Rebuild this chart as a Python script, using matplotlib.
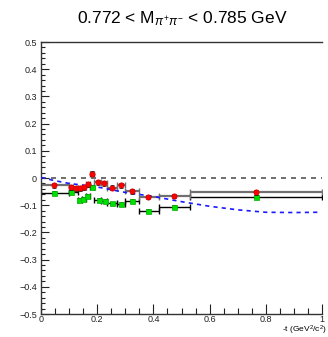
import numpy as np
import matplotlib
matplotlib.use("Agg")
import matplotlib.pyplot as plt

plt.rcParams['font.family'] = ['Liberation Sans', 'DejaVu Sans']
plt.rcParams['mathtext.fontset'] = 'custom'
plt.rcParams['mathtext.rm'] = 'Liberation Sans'
plt.rcParams['mathtext.it'] = 'Liberation Sans:italic'

# red series (circles): -t bin centre, bin edges, value
t_red = [0.047, 0.106, 0.124, 0.139, 0.154, 0.168, 0.183, 0.204, 0.225, 0.252, 0.286, 0.325, 0.381, 0.473, 0.765]
lo_red = [0.0, 0.10, 0.115, 0.13, 0.145, 0.16, 0.175, 0.19, 0.215, 0.235, 0.27, 0.30, 0.35, 0.42, 0.53]
hi_red = [0.10, 0.115, 0.13, 0.145, 0.16, 0.175, 0.19, 0.215, 0.235, 0.27, 0.30, 0.35, 0.42, 0.53, 1.0]
v_red = [-0.026, -0.034, -0.038, -0.038, -0.034, -0.023, 0.015, -0.016, -0.020, -0.036, -0.027, -0.048, -0.070, -0.066, -0.053]

# green series (squares)
t_grn = [0.047, 0.106, 0.136, 0.151, 0.165, 0.183, 0.207, 0.227, 0.254, 0.286, 0.325, 0.381, 0.473, 0.765]
lo_grn = [0.0, 0.10, 0.13, 0.145, 0.16, 0.175, 0.19, 0.215, 0.235, 0.27, 0.30, 0.35, 0.42, 0.53]
hi_grn = [0.10, 0.13, 0.145, 0.16, 0.175, 0.19, 0.215, 0.235, 0.27, 0.30, 0.35, 0.42, 0.53, 1.0]
v_grn = [-0.054, -0.050, -0.081, -0.076, -0.066, -0.032, -0.081, -0.085, -0.093, -0.096, -0.083, -0.121, -0.105, -0.069]

# model curve
t_model = [0.0, 0.05, 0.1, 0.2, 0.3, 0.4, 0.5, 0.6, 0.7, 0.8, 0.9, 0.985]
v_model = [0.002, -0.010, -0.020, -0.033, -0.053, -0.068, -0.087, -0.104, -0.117, -0.126, -0.127, -0.126]

fig = plt.figure(figsize=(3.28, 3.37), dpi=100)
ax = fig.add_axes([41 / 328, 1 - 314 / 337, 281 / 328, 272 / 337])

t_r = np.array(t_red)
t_g = np.array(t_grn)
xe_r = [t_r - np.array(lo_red), np.array(hi_red) - t_r]
xe_g = [t_g - np.array(lo_grn), np.array(hi_grn) - t_g]

# zero line
ax.plot([0, 1], [0, 0], ls=(0, (3, 3)), color='#555555', lw=1.2, zorder=1)

# horizontal bin widths
ax.errorbar(t_g, v_grn, xerr=xe_g, fmt='none', ecolor='black', elinewidth=1.0,
            capsize=2.5, capthick=1.0, zorder=2)
ax.errorbar(t_r, v_red, xerr=xe_r, fmt='none', ecolor='#707070', elinewidth=1.6,
            capsize=2.5, capthick=1.0, zorder=2)

# model
ax.plot(t_model, v_model, ls=(0, (2.5, 2.5)), color='#1a1aff', lw=1.2, zorder=3)

# vertical errors and markers
ax.errorbar(t_g, v_grn, yerr=0.006, fmt='s', color='#00e000', ms=3.6, mec='#00b000',
            mew=0.5, ecolor='black', elinewidth=0.8, capsize=1.2, zorder=4)
ax.errorbar(t_r, v_red, yerr=0.009, fmt='o', color='#ff0000', ms=3.8, mec='#cc0000',
            mew=0.5, ecolor='black', elinewidth=0.8, capsize=1.2, zorder=5)

ax.set_xlim(0, 1)
ax.set_ylim(-0.5, 0.5)
ax.set_xticks(np.arange(0, 1.01, 0.2))
ax.set_xticks(np.arange(0, 1.01, 0.05), minor=True)
ax.set_yticks(np.arange(-0.5, 0.51, 0.1))
ax.set_yticks(np.arange(-0.5, 0.51, 0.02), minor=True)
ax.set_xticklabels(['0', '0.2', '0.4', '0.6', '0.8', '1'])
ax.set_yticklabels(['\u22120.5', '\u22120.4', '\u22120.3', '\u22120.2', '\u22120.1', '0',
                    '0.1', '0.2', '0.3', '0.4', '0.5'])
ax.tick_params(which='both', direction='in', labelsize=6.5, colors='#222222', width=0.8)
ax.tick_params(axis='y', which='major', length=6, pad=3)
ax.tick_params(axis='y', which='minor', length=3)
ax.tick_params(axis='x', which='major', length=7, pad=1)
ax.tick_params(axis='x', which='minor', length=4)
ax.spines['right'].set_visible(False)
for s in ['left', 'bottom', 'top']:
    ax.spines[s].set_linewidth(1.0)
    ax.spines[s].set_color('#333333')

fig.text(182 / 328, 1 - 19 / 337, r'0.772 < M$_{\pi^{+}\pi^{-}}$ < 0.785 GeV',
         ha='center', va='center', fontsize=12.5)
fig.text(327 / 328, 1 - 330 / 337, r'-t (GeV$^{2}$/c$^{2}$)', ha='right', va='center',
         fontsize=6)

fig.savefig('out.png', dpi=100)
